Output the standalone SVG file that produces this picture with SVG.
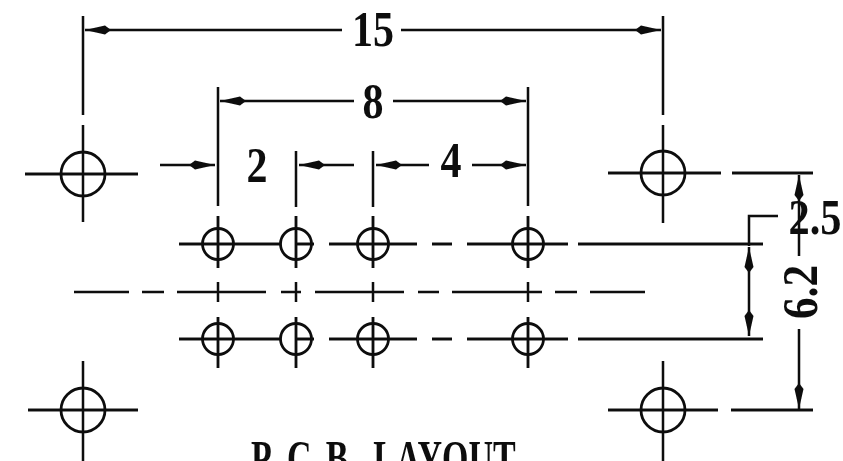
<svg xmlns="http://www.w3.org/2000/svg" width="843" height="461" viewBox="0 0 843 461">
<style>
.l{stroke:#111;stroke-width:2.8;fill:none}
.d{stroke:#111;stroke-width:2.5;fill:none}
.c{stroke:#111;stroke-width:2.8;fill:none}
.t{font-family:"Liberation Serif","Times New Roman",serif;font-size:50px;font-weight:bold;fill:#111;text-anchor:middle}
.s{text-anchor:start}
</style>
<defs>
<marker id="a" markerUnits="userSpaceOnUse" markerWidth="30" markerHeight="12" refX="28" refY="6" orient="auto-start-reverse"><path d="M2 6L8 1.500L28 6L8 10.500Z" fill="#111"/></marker>
<filter id="b" x="-2%" y="-2%" width="104%" height="104%"><feGaussianBlur stdDeviation="0.55"/></filter>
</defs>
<rect width="843" height="461" fill="#fff"/>
<g filter="url(#b)">
<g id="connectors">
<path class="d" d="M83 16V115M663 16V115M218 87V206M528 87V206M296 151V207M373 151V207"/>
<path class="d" marker-start="url(#a)" d="M85 30H342"/>
<path class="d" marker-end="url(#a)" d="M401 30H661"/>
<path class="d" marker-start="url(#a)" d="M220 101H354"/>
<path class="d" marker-end="url(#a)" d="M393 101H526"/>
<path class="d" marker-end="url(#a)" d="M160 165H215"/>
<path class="d" marker-start="url(#a)" d="M299 165H354"/>
<path class="d" marker-start="url(#a)" d="M376 165H429"/>
<path class="d" marker-end="url(#a)" d="M472 165H526"/>
<path class="d" marker-start="url(#a)" d="M799 175V256"/>
<path class="d" marker-end="url(#a)" d="M799 329V409"/>
<path class="d" d="M778 216H749V246"/>
<path class="d" marker-start="url(#a)" marker-end="url(#a)" d="M749 247V336"/>
<path class="l" d="M179 244H281M296 244H314M329 244H417M432 244H452M467 244H568M578 244H763"/>
<path class="l" d="M179 339H281M296 339H314M329 339H417M432 339H452M467 339H568M578 339H763"/>
<path class="d" d="M74 292H129M142 292H164M177 292H266M281 292H301M315 292H404M418 292H439M452 292H542M555 292H577M590 292H645"/>
<path class="d" d="M218 282V302M296 282V302M373 282V302M528 282V302"/>
<path class="l" d="M608 173H721M732 173H813M608 410H718M731 410H813M25 174H138M28 410H138"/>
</g>
<g id="hole-tl"><circle cx="83" cy="174" r="22" class="c"/><path class="d" d="M83 125V222"/></g>
<g id="hole-tr"><circle cx="663" cy="173" r="22" class="c"/><path class="d" d="M663 125V223"/></g>
<g id="hole-bl"><circle cx="83" cy="410" r="22" class="c"/><path class="d" d="M83 361V461"/></g>
<g id="hole-br"><circle cx="663" cy="410" r="22" class="c"/><path class="d" d="M663 361V461"/></g>
<g id="pin-t1"><circle cx="218" cy="244" r="15.500" class="c"/><path class="l" d="M218 216V268"/></g>
<g id="pin-t2"><circle cx="296" cy="244" r="15.500" class="c"/><path class="l" d="M296 216V268"/></g>
<g id="pin-t3"><circle cx="373" cy="244" r="15.500" class="c"/><path class="l" d="M373 216V268"/></g>
<g id="pin-t4"><circle cx="528" cy="244" r="15.500" class="c"/><path class="l" d="M528 216V268"/></g>
<g id="pin-b1"><circle cx="218" cy="339" r="15.500" class="c"/><path class="l" d="M218 317V368"/></g>
<g id="pin-b2"><circle cx="296" cy="339" r="15.500" class="c"/><path class="l" d="M296 317V368"/></g>
<g id="pin-b3"><circle cx="373" cy="339" r="15.500" class="c"/><path class="l" d="M373 317V368"/></g>
<g id="pin-b4"><circle cx="528" cy="339" r="15.500" class="c"/><path class="l" d="M528 317V368"/></g>
<g id="labels">
<text class="t" x="373" y="46" textLength="42" lengthAdjust="spacingAndGlyphs">15</text>
<text class="t" x="373" y="118" textLength="21" lengthAdjust="spacingAndGlyphs">8</text>
<text class="t" x="257" y="182" textLength="21" lengthAdjust="spacingAndGlyphs">2</text>
<text class="t" x="451" y="177" textLength="21" lengthAdjust="spacingAndGlyphs">4</text>
<text class="t" x="815" y="234" textLength="53" lengthAdjust="spacingAndGlyphs">2.5</text>
<text class="t" transform="translate(817 292) rotate(-90)" textLength="54" lengthAdjust="spacingAndGlyphs">6.2</text>
<text class="t s" transform="translate(0 475) scale(.68 1)" x="369 413 422 471 479 524 532 549" y="0">P.C.B. LAYOUT</text>
</g>
</g>
</svg>
